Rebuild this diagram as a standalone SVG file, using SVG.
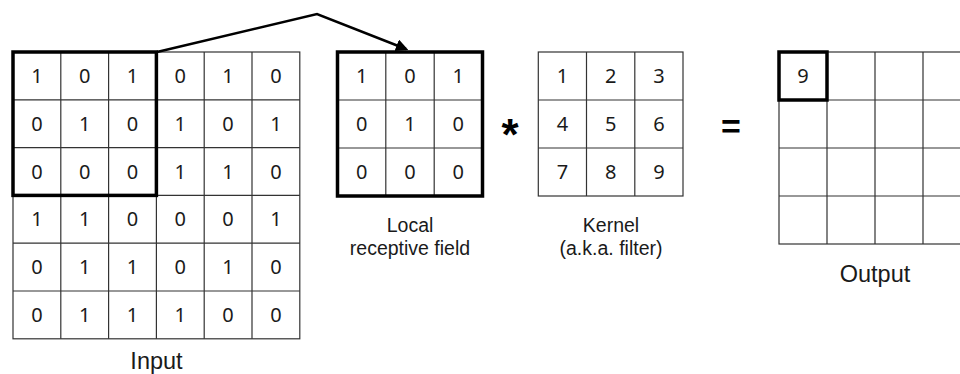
<svg xmlns="http://www.w3.org/2000/svg" width="960" height="374" viewBox="0 0 960 374">
  <defs>
    <style>
      .grid { fill: none; stroke: #333; stroke-width: 1.2; }
      .thick { fill: none; stroke: #000; stroke-width: 3.5; }
      .d { font-family: "Noto Sans", "Open Sans", sans-serif; font-size: 20px; text-anchor: middle; fill: #1a1a1a; }
      .lbl { font-family: "Liberation Sans", Arial, sans-serif; font-size: 19.5px; text-anchor: middle; fill: #1a1a1a; }
      .big { font-family: "Liberation Sans", Arial, sans-serif; font-size: 23.5px; text-anchor: middle; fill: #1a1a1a; }
      .op { font-family: "Liberation Sans", Arial, sans-serif; font-weight: bold; text-anchor: middle; fill: #000; }
      .conn { fill: none; stroke: #000; stroke-width: 2.5; stroke-linejoin: miter; }
    </style>
    <marker id="arrow" viewBox="0 0 10 10" refX="8" refY="5" markerWidth="5" markerHeight="5" orient="auto" markerUnits="strokeWidth">
      <path d="M0,0 L10,5 L0,10 z" fill="#000"/>
    </marker>
  </defs>

  <rect width="960" height="374" fill="#fff"/>

  <!-- 6x6 input matrix -->
  <g id="input">
    <rect class="grid" x="13" y="52" width="286.8" height="286.8"/>
    <path class="grid" d="M60.8,52V338.8 M108.6,52V338.8 M156.4,52V338.8 M204.2,52V338.8 M252,52V338.8
                          M13,99.8H299.8 M13,147.6H299.8 M13,195.4H299.8 M13,243.2H299.8 M13,291H299.8"/>
    <g class="d">
      <text x="36.9" y="83">1</text><text x="84.7" y="83">0</text><text x="132.5" y="83">1</text><text x="180.3" y="83">0</text><text x="228.1" y="83">1</text><text x="275.9" y="83">0</text>
      <text x="36.9" y="130.8">0</text><text x="84.7" y="130.8">1</text><text x="132.5" y="130.8">0</text><text x="180.3" y="130.8">1</text><text x="228.1" y="130.8">0</text><text x="275.9" y="130.8">1</text>
      <text x="36.9" y="178.6">0</text><text x="84.7" y="178.6">0</text><text x="132.5" y="178.6">0</text><text x="180.3" y="178.6">1</text><text x="228.1" y="178.6">1</text><text x="275.9" y="178.6">0</text>
      <text x="36.9" y="226.4">1</text><text x="84.7" y="226.4">1</text><text x="132.5" y="226.4">0</text><text x="180.3" y="226.4">0</text><text x="228.1" y="226.4">0</text><text x="275.9" y="226.4">1</text>
      <text x="36.9" y="274.2">0</text><text x="84.7" y="274.2">1</text><text x="132.5" y="274.2">1</text><text x="180.3" y="274.2">0</text><text x="228.1" y="274.2">1</text><text x="275.9" y="274.2">0</text>
      <text x="36.9" y="322">0</text><text x="84.7" y="322">1</text><text x="132.5" y="322">1</text><text x="180.3" y="322">1</text><text x="228.1" y="322">0</text><text x="275.9" y="322">0</text>
    </g>
    <rect class="thick" x="13" y="52" width="143.4" height="143.4"/>
    <text class="big" x="156.5" y="369">Input</text>
  </g>

  <!-- 3x3 local receptive field -->
  <g id="local-field">
    <rect class="grid" x="337.5" y="52" width="145" height="144"/>
    <path class="grid" d="M385.8,52V196 M434.2,52V196 M337.5,100H482.5 M337.5,148H482.5"/>
    <g class="d">
      <text x="361.7" y="83">1</text><text x="410" y="83">0</text><text x="458.3" y="83">1</text>
      <text x="361.7" y="131">0</text><text x="410" y="131">1</text><text x="458.3" y="131">0</text>
      <text x="361.7" y="179">0</text><text x="410" y="179">0</text><text x="458.3" y="179">0</text>
    </g>
    <rect class="thick" x="337.5" y="52" width="145" height="144"/>
    <text class="lbl" x="410" y="231.5">Local</text>
    <text class="lbl" x="410" y="254.5">receptive field</text>
  </g>

  <!-- convolution operator -->
  <g id="op-conv">
    <text class="op" x="510" y="150" font-size="44">*</text>
  </g>

  <!-- 3x3 kernel -->
  <g id="kernel">
    <rect class="grid" x="538.3" y="52" width="144.7" height="144"/>
    <path class="grid" d="M586.5,52V196 M634.8,52V196 M538.3,100H683 M538.3,148H683"/>
    <g class="d">
      <text x="562.4" y="83">1</text><text x="610.7" y="83">2</text><text x="658.9" y="83">3</text>
      <text x="562.4" y="131">4</text><text x="610.7" y="131">5</text><text x="658.9" y="131">6</text>
      <text x="562.4" y="179">7</text><text x="610.7" y="179">8</text><text x="658.9" y="179">9</text>
    </g>
    <text class="lbl" x="611" y="231.5">Kernel</text>
    <text class="lbl" x="611" y="254.5">(a.k.a. filter)</text>
  </g>

  <!-- equals operator -->
  <g id="op-eq">
    <text class="op" x="731" y="138" font-size="34">=</text>
  </g>

  <!-- 4x4 output feature map -->
  <g id="output">
    <rect class="grid" x="779" y="52" width="192" height="192"/>
    <path class="grid" d="M827,52V244 M875,52V244 M923,52V244 M779,100H971 M779,148H971 M779,196H971"/>
    <text class="d" x="803" y="83">9</text>
    <rect class="thick" x="779" y="52" width="48" height="48"/>
    <text class="big" x="875" y="281.5">Output</text>
  </g>

  <!-- connector from input window to local field -->
  <g id="connectors">
    <path class="conn" d="M157,52 L317,14 L406,49" marker-end="url(#arrow)"/>
  </g>
</svg>
